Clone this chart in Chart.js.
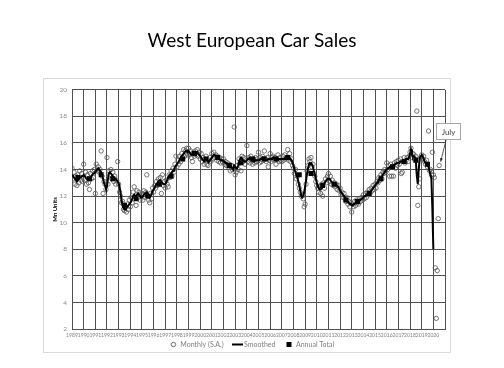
<!DOCTYPE html>
<html><head><meta charset="utf-8">
<script src="https://cdn.jsdelivr.net/npm/chart.js@4"></script>
<style>html,body{margin:0;padding:0;background:#fff}canvas{display:block}</style>
</head><body>
<canvas id="c" width="504" height="368"></canvas>
<script>
const chartTitle = 'West European Car Sales';
const yAxisTitle = 'Mn Units';
const startYear = 1989;
const endYear = 2021;
const yMin = 2, yMax = 20, yStep = 2;
const legendLabels = ['Monthly (S.A.)', 'Smoothed', 'Annual Total'];

// Monthly seasonally adjusted values, Jan 1989 .. Jul 2020
const monthly = [
 14.1,13.3,13.8,12.9,13.5,12.8,13.6,13.0,13.9,13.2,13.7,13.1,
 14.4,13.2,13.8,12.9,13.6,13.0,12.5,13.7,13.3,13.9,13.4,14.0,
 12.2,14.4,13.9,14.2,13.8,14.0,15.4,13.5,12.2,13.1,12.9,12.5,
 14.9,12.9,13.9,13.6,14.0,13.3,13.8,13.1,13.5,12.9,13.2,14.6,
 12.9,12.3,12.0,11.5,11.6,11.0,10.9,11.2,10.8,11.4,11.0,11.7,
 11.2,11.9,11.5,12.3,12.7,12.0,11.3,12.4,11.9,12.3,11.7,12.1,
 12.2,11.7,12.4,11.9,12.3,13.6,12.0,11.7,11.5,12.2,11.8,12.6,
 12.3,12.8,12.6,13.1,12.8,13.3,13.0,13.4,12.2,13.6,12.8,13.1,
 12.6,13.2,12.9,12.7,13.6,13.4,13.9,13.5,14.1,13.8,14.4,15.0,
 14.2,14.7,14.4,15.0,14.6,15.2,14.9,15.5,15.0,15.4,15.6,15.1,
 15.6,15.1,15.4,14.9,14.6,15.3,15.0,15.4,15.1,15.5,15.0,15.3,
 14.8,15.2,14.6,14.9,14.4,14.8,15.0,14.4,14.3,14.7,14.9,14.6,
 15.2,14.8,15.3,14.9,15.1,14.7,15.0,14.6,14.9,14.5,14.8,14.6,
 14.8,14.4,14.6,14.3,14.5,14.2,14.4,13.9,14.3,14.0,14.2,17.2,
 13.6,13.8,14.3,14.0,14.8,14.5,13.9,15.0,14.6,14.9,14.4,14.8,
 15.8,14.6,14.9,14.5,15.0,14.7,14.4,14.8,14.5,14.9,14.6,14.8,
 15.3,14.5,14.9,14.6,15.0,14.7,15.4,14.8,14.6,14.9,14.2,14.7,
 15.2,14.6,14.9,15.0,14.7,14.9,14.4,14.8,15.1,14.6,14.9,14.7,
 14.6,15.0,14.7,15.1,14.8,14.9,15.5,14.7,15.2,14.6,14.8,14.3,
 14.1,13.7,14.0,13.3,13.5,12.9,12.6,12.3,12.0,12.1,11.8,11.2,
 11.4,12.9,13.9,14.3,14.8,14.6,14.9,14.2,14.4,13.7,13.5,13.1,
 12.8,12.6,12.3,12.7,12.2,12.9,12.0,13.0,12.6,13.3,13.0,13.5,
 13.7,13.1,13.5,12.9,13.2,12.8,13.0,12.7,12.9,12.5,12.8,12.4,
 12.6,12.1,12.3,11.9,12.2,11.8,11.6,11.9,11.4,11.6,11.2,11.5,
 10.8,11.4,11.2,11.6,11.3,11.7,11.5,11.4,11.8,11.6,11.9,11.7,
 12.1,11.8,12.2,11.9,12.3,12.1,12.5,12.2,12.6,12.4,12.8,12.5,
 12.9,12.6,13.1,13.0,13.4,13.2,13.6,13.3,13.8,13.7,14.0,13.8,
 14.5,14.0,14.3,13.5,14.4,13.5,14.2,13.5,14.5,14.1,14.6,14.3,
 14.7,14.4,14.8,13.7,13.8,14.6,14.9,14.5,14.7,14.9,14.6,15.0,
 15.3,15.6,14.9,15.2,15.1,14.8,15.0,18.4,11.3,12.7,13.3,14.9,
 15.1,14.8,15.0,14.6,14.4,14.7,14.2,16.9,13.9,14.0,13.6,15.3,
 13.6,13.4,6.6,2.8,6.4,10.3,14.3
];

// Smoothed trend, Jan 1989 .. Jan 2020
const smoothed = [
 13.6,13.5,13.4,13.3,13.2,13.1,13.2,13.3,13.4,13.4,13.5,13.5,
 13.6,13.5,13.4,13.3,13.3,13.2,13.3,13.4,13.5,13.6,13.7,13.7,
 13.8,13.9,14.0,14.1,14.0,13.9,13.8,13.6,13.3,13.0,12.8,12.6,
 12.7,13.3,13.7,13.8,13.7,13.6,13.5,13.4,13.3,13.3,13.2,13.1,
 13.0,12.7,12.2,11.7,11.3,11.1,11.0,11.0,11.1,11.2,11.3,11.4,
 11.5,11.6,11.8,12.0,12.1,12.0,12.0,12.1,12.2,12.1,12.0,11.9,
 11.9,12.0,12.1,12.2,12.2,12.3,12.2,12.0,11.9,12.0,12.2,12.4,
 12.5,12.6,12.8,12.9,13.0,13.1,13.2,13.2,13.1,13.0,12.9,12.9,
 12.9,13.0,13.2,13.4,13.5,13.6,13.7,13.8,13.9,14.0,14.2,14.3,
 14.4,14.5,14.6,14.8,14.9,15.0,15.1,15.2,15.3,15.4,15.4,15.3,
 15.4,15.3,15.2,15.1,15.1,15.2,15.2,15.1,15.2,15.3,15.2,15.1,
 15.0,14.9,14.8,14.7,14.6,14.7,14.8,14.7,14.6,14.6,14.7,14.8,
 14.9,15.0,15.1,15.1,15.0,14.9,14.9,14.8,14.8,14.7,14.7,14.7,
 14.6,14.6,14.5,14.5,14.4,14.4,14.3,14.2,14.2,14.1,14.0,14.3,
 14.2,14.1,14.1,14.3,14.6,14.8,14.9,14.8,14.7,14.6,14.6,14.6,
 14.7,14.8,14.8,14.9,14.8,14.8,14.7,14.6,14.6,14.7,14.7,14.7,
 14.7,14.7,14.8,14.8,14.9,14.9,14.8,14.7,14.7,14.7,14.8,14.8,
 14.8,14.8,14.8,14.9,14.9,14.8,14.8,14.7,14.7,14.8,14.8,14.8,
 14.8,14.8,14.8,14.8,14.9,14.9,14.9,14.9,14.9,14.8,14.7,14.5,
 14.3,14.0,13.8,13.6,13.4,13.1,12.8,12.4,12.0,11.9,12.0,12.3,
 12.7,13.2,13.7,14.1,14.4,14.5,14.5,14.4,14.2,13.9,13.6,13.3,
 13.0,12.8,12.6,12.5,12.5,12.6,12.7,12.8,13.0,13.1,13.2,13.3,
 13.3,13.3,13.2,13.1,13.0,13.0,12.9,12.9,12.9,12.8,12.7,12.6,
 12.4,12.3,12.2,12.1,12.0,11.9,11.8,11.7,11.6,11.5,11.4,11.4,
 11.3,11.3,11.4,11.4,11.5,11.5,11.6,11.6,11.7,11.7,11.8,11.8,
 11.9,12.0,12.0,12.1,12.1,12.2,12.3,12.3,12.4,12.5,12.6,12.7,
 12.8,12.9,13.0,13.1,13.2,13.3,13.4,13.5,13.6,13.7,13.8,13.9,
 14.0,14.1,14.1,14.2,14.2,14.3,14.3,14.3,14.4,14.4,14.5,14.5,
 14.5,14.5,14.6,14.6,14.6,14.7,14.7,14.7,14.8,14.8,14.8,14.9,
 15.2,15.5,15.2,15.0,15.0,14.9,14.6,13.5,12.9,14.0,14.9,15.0,
 15.1,15.0,14.8,14.6,14.5,14.4,14.3,14.2,13.9,13.6,13.3,11.0,
 8.0
];

const annualYears = [1989,1990,1991,1992,1993,1994,1995,1996,1997,1998,1999,2000,2001,2002,2003,2004,2005,2006,2007,2008,2009,2010,2011,2012,2013,2014,2015,2016,2017,2018,2019];
const annualTotal = [13.4,13.3,13.6,13.3,11.3,11.8,12.0,12.9,13.5,14.8,15.2,14.8,14.9,14.3,14.5,14.8,14.8,14.8,14.9,13.6,13.7,12.8,12.9,11.7,11.6,12.2,13.3,14.2,14.6,14.7,14.4];

const annotationText = 'July';
const annotationIndex = monthly.length - 1;

const monthX = i => startYear + i / 12;
const monthlyPts = monthly.map((v, i) => ({x: monthX(i), y: v}));
const smoothPts = smoothed.map((v, i) => ({x: monthX(i), y: v}));
const annualPts = annualYears.map((yr, i) => ({x: yr + 0.5, y: annualTotal[i]}));

function marker(kind) {
  const c = document.createElement('canvas');
  c.width = 11; c.height = 7;
  const g = c.getContext('2d');
  if (kind === 'circle') {
    g.strokeStyle = '#555'; g.lineWidth = 0.9;
    g.beginPath(); g.arc(5.5, 3.5, 2.2, 0, Math.PI * 2); g.stroke();
  } else if (kind === 'line') {
    g.fillStyle = '#000'; g.fillRect(0, 2.5, 11, 2);
  } else {
    g.fillStyle = '#000'; g.fillRect(3, 1, 5, 5);
  }
  return c;
}
const legendMarkers = [marker('circle'), marker('line'), marker('rect')];

const borderBox = {
  id: 'borderBox',
  afterLayout(chart) {
    const lg = chart.legend;
    if (lg) { lg.top -= 10; lg.bottom -= 10; }
  },
  beforeDraw(chart) {
    const ctx = chart.ctx, a = chart.chartArea;
    ctx.save();
    ctx.fillStyle = '#fff';
    ctx.fillRect(0, 0, chart.width, chart.height);
    ctx.strokeStyle = '#d9d9d9';
    ctx.lineWidth = 1;
    ctx.strokeRect(Math.round(a.left - 29) + 0.5, Math.round(a.top - 12) + 0.5, Math.round(a.right - a.left + 34), Math.round(a.bottom - a.top + 35));
    ctx.restore();
  }
};

const calloutPlugin = {
  id: 'callout',
  afterDraw(chart) {
    const ctx = chart.ctx;
    const p = monthlyPts[annotationIndex];
    const px = chart.scales.x.getPixelForValue(p.x);
    const py = chart.scales.y.getPixelForValue(p.y);
    const bx = Math.round(px - 3) + 0.5, by = Math.round(py - 43) + 0.5, bw = 24, bh = 16;
    ctx.save();
    const x0 = px + 7, y0 = by + bh, x1 = px + 1.5, y1 = py - 4;
    ctx.strokeStyle = '#333'; ctx.lineWidth = 0.8;
    ctx.beginPath(); ctx.moveTo(x0, y0); ctx.lineTo(x1, y1); ctx.stroke();
    const ang = Math.atan2(y1 - y0, x1 - x0);
    ctx.fillStyle = '#222';
    ctx.beginPath();
    ctx.moveTo(x1, y1);
    ctx.lineTo(x1 - 3.5 * Math.cos(ang - 0.45), y1 - 3.5 * Math.sin(ang - 0.45));
    ctx.lineTo(x1 - 3.5 * Math.cos(ang + 0.45), y1 - 3.5 * Math.sin(ang + 0.45));
    ctx.closePath(); ctx.fill();
    ctx.fillStyle = '#fff';
    ctx.fillRect(bx, by, bw, bh);
    ctx.strokeStyle = '#a6a6a6'; ctx.lineWidth = 1;
    ctx.strokeRect(bx, by, bw, bh);
    ctx.fillStyle = '#404040';
    ctx.font = '8px Lato';
    ctx.textAlign = 'center'; ctx.textBaseline = 'middle';
    ctx.fillText(annotationText, bx + bw / 2, by + bh / 2 + 0.5);
    ctx.restore();
  }
};

new Chart(document.getElementById('c'), {
  type: 'scatter',
  data: {
    datasets: [
      { label: legendLabels[2], data: annualPts, pointStyle: 'rect', pointRadius: 3.5, pointBackgroundColor: '#000', pointBorderWidth: 0, showLine: false },
      { type: 'line', label: legendLabels[1], data: smoothPts, borderColor: '#000', borderWidth: 2, pointRadius: 0, tension: 0, fill: false },
      { label: legendLabels[0], data: monthlyPts, pointStyle: 'circle', pointRadius: 2.2, pointBorderWidth: 0.8, pointBorderColor: '#555', pointBackgroundColor: 'rgba(255,255,255,0)', showLine: false }
    ]
  },
  options: {
    responsive: false,
    animation: false,
    layout: { padding: { left: 0, right: 0, top: 0, bottom: 0 } },
    plugins: {
      tooltip: { enabled: false },
      title: {
        display: true, text: chartTitle, color: '#000',
        font: { family: 'Lato', size: 19, weight: 'normal' },
        padding: { top: 29, bottom: 38 }
      },
      legend: {
        position: 'bottom',
        labels: {
          usePointStyle: true, boxWidth: 7, boxHeight: 7, padding: 10,
          color: '#7f7f7f', font: { family: 'Lato', size: 7 },
          generateLabels: () => legendLabels.map((t, i) => ({
            text: t, pointStyle: legendMarkers[i], fillStyle: 'transparent',
            strokeStyle: 'transparent', lineWidth: 0, hidden: false, fontColor: '#7f7f7f', datasetIndex: 2 - i
          }))
        }
      }
    },
    scales: {
      x: {
        type: 'linear', min: startYear, max: endYear,
        afterFit: s => { s.height = 12; },
        ticks: { stepSize: 1, autoSkip: false, maxRotation: 0, minRotation: 0, padding: 3,
          color: '#7f7f7f', font: { family: 'Lato', size: 5.1 },
          callback: v => (v === endYear ? '' : String(v)) },
        grid: { color: '#505050', lineWidth: 1, drawTicks: false },
        border: { color: '#505050' }
      },
      y: {
        min: yMin, max: yMax,
        afterFit: s => { s.width = 72; },
        ticks: { stepSize: yStep, padding: 5, color: '#8c8c8c', font: { family: 'Lato', size: 6.5 } },
        grid: { color: '#505050', lineWidth: 1, drawTicks: false },
        border: { color: '#505050' },
        title: { display: true, text: yAxisTitle, color: '#000', font: { family: 'Lato', size: 6, weight: 'bold' }, padding: { top: 51, bottom: 0 } }
      },
      yRight: {
        position: 'right', display: true,
        afterFit: s => { s.width = 59; },
        ticks: { display: false },
        grid: { display: false, drawTicks: false },
        border: { display: false }
      }
    }
  },
  plugins: [borderBox, calloutPlugin]
});
</script>
</body></html>
